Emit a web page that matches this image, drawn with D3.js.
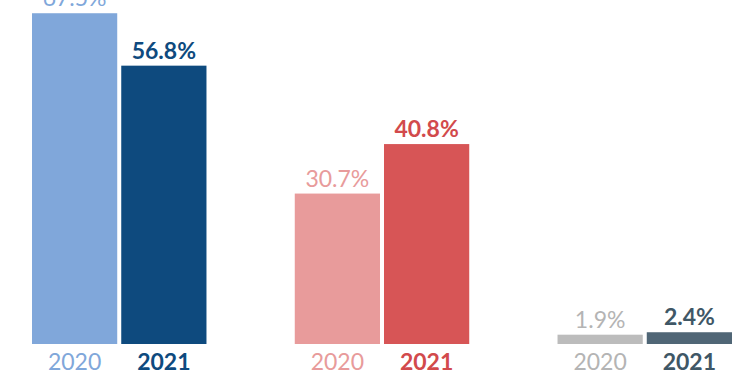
<!DOCTYPE html>
<html>
<head>
<meta charset="utf-8">
<script src="https://cdn.jsdelivr.net/npm/d3@7"></script>
<style>
  html, body { margin: 0; padding: 0; background: #fff; }
  svg { display: block; font-family: Lato, "Open Sans", sans-serif; }
</style>
</head>
<body>
<svg id="chart" width="750" height="375"></svg>
<script>
// chart data
var groups = ['group1', 'group2', 'group3'];
var years = ['2020', '2021'];
var values2020 = [67.5, 30.7, 1.9];
var values2021 = [56.8, 40.8, 2.4];
var colors2020 = ['#80a7da', '#e89b9b', '#bcbcbc'];
var colors2021 = ['#0e4a7e', '#d75556', '#506676'];
var textColors2020 = ['#80a7da', '#e89b9b', '#b4b4b4'];
var textColors2021 = ['#0e4a7e', '#d24a4c', '#3f5766'];

var svg = d3.select('#chart');
var baseline = 344;

var x0 = d3.scaleBand()
  .domain(groups)
  .range([32, 732])
  .paddingInner(0.336)
  .paddingOuter(0);

var x1 = d3.scaleBand()
  .domain(years)
  .range([0, x0.bandwidth()])
  .paddingInner(0.045)
  .paddingOuter(0);

var y = d3.scaleLinear()
  .domain([0, 70.2])
  .range([baseline, 0]);

var rows = [];
groups.forEach((g, i) => {
  rows.push({group: g, year: '2020', value: values2020[i], fill: colors2020[i], text: textColors2020[i], bold: false});
  rows.push({group: g, year: '2021', value: values2021[i], fill: colors2021[i], text: textColors2021[i], bold: true});
});

var bars = svg.append('g').attr('class', 'bars');

bars.selectAll('rect.bar')
  .data(rows)
  .enter()
  .append('rect')
  .attr('class', 'bar')
  .attr('x', d => x0(d.group) + x1(d.year))
  .attr('y', d => y(d.value))
  .attr('width', x1.bandwidth())
  .attr('height', d => baseline - y(d.value))
  .style('fill', d => d.fill);

bars.selectAll('text.value')
  .data(rows)
  .enter()
  .append('text')
  .attr('class', 'value')
  .attr('x', d => x0(d.group) + x1(d.year) + x1.bandwidth() / 2)
  .attr('y', d => y(d.value) - 7)
  .attr('text-anchor', 'middle')
  .style('font-size', '23px')
  .style('font-weight', d => (d.bold ? 700 : 400))
  .style('fill', d => d.text)
  .text(d => d3.format('.1f')(d.value) + '%');

bars.selectAll('text.year')
  .data(rows)
  .enter()
  .append('text')
  .attr('class', 'year')
  .attr('x', d => x0(d.group) + x1(d.year) + x1.bandwidth() / 2)
  .attr('y', 370)
  .attr('text-anchor', 'middle')
  .style('font-size', '23px')
  .style('font-weight', d => (d.bold ? 700 : 400))
  .style('fill', d => d.text)
  .text(d => d.year);
</script>
</body>
</html>
